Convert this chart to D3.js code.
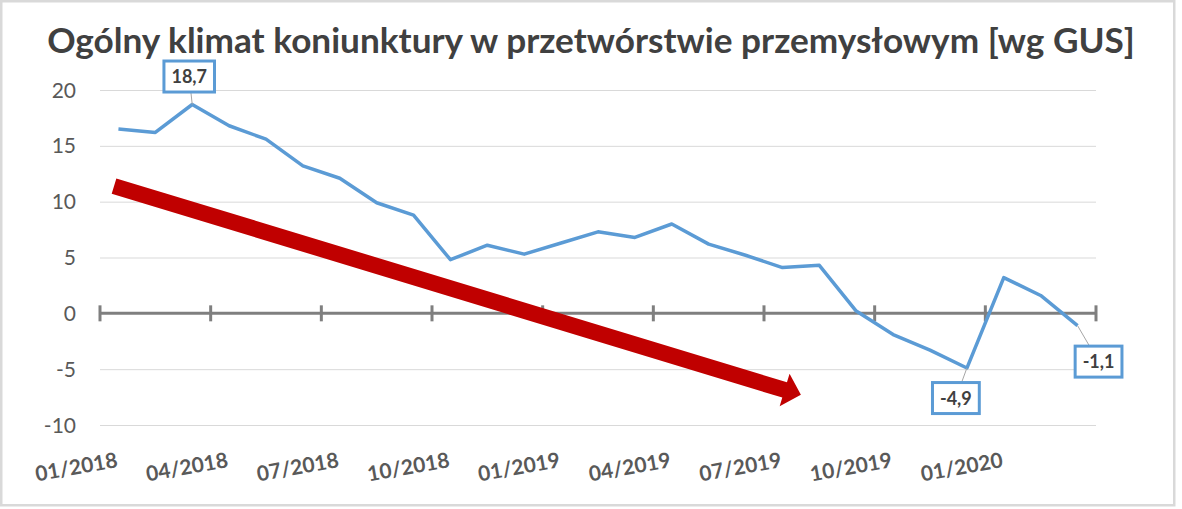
<!DOCTYPE html>
<html>
<head>
<meta charset="utf-8">
<script src="https://cdn.jsdelivr.net/npm/d3@7"></script>
<style>
  body { margin: 0; background: #fff; }
  text { font-family: Lato, 'Open Sans', sans-serif; }
</style>
</head>
<body>
<svg></svg>
<script>
const width = 1182
const height = 509

// data
const months = ['01/2018','02/2018','03/2018','04/2018','05/2018','06/2018','07/2018','08/2018','09/2018',
  '10/2018','11/2018','12/2018','01/2019','02/2019','03/2019','04/2019','05/2019','06/2019',
  '07/2019','08/2019','09/2019','10/2019','11/2019','12/2019','01/2020','02/2020','03/2020']
const values = [16.5, 16.2, 18.7, 16.8, 15.6, 13.2, 12.1, 9.9, 8.8,
  4.8, 6.1, 5.3, 6.3, 7.3, 6.8, 8.0, 6.2, 5.2,
  4.1, 4.3, 0.2, -1.9, -3.3, -4.9, 3.2, 1.6, -1.1]
const tickMonths = ['01/2018','04/2018','07/2018','10/2018','01/2019','04/2019','07/2019','10/2019','01/2020']
const yTicks = [20, 15, 10, 5, 0, -5, -10]
const labelledMonths = ['03/2018', '12/2019', '03/2020']
// trend arrow, in (category position, value)
const trendFrom = [0.38, 11.4]
const trendTo = [19.0, -7.3]

const titleText = 'Ogólny klimat koniunktury w przetwórstwie przemysłowym [wg GUS]'

const plot = {left: 100, right: 1096, top: 90, bottom: 425}
const lineColor = '#5B9BD5'
const textColor = '#595959'

const svg = d3.select('svg').attr('width', width).attr('height', height)

// chart border
svg.append('rect')
  .attr('x', 1.25).attr('y', 1.25)
  .attr('width', 1173).attr('height', 504)
  .attr('fill', '#fff').attr('stroke', '#D9D9D9').attr('stroke-width', 2.5)

const x = d3.scaleBand().domain(months).range([plot.left, plot.right])
const xPos = d3.scaleLinear().domain([0, months.length]).range([plot.left, plot.right])
const y = d3.scaleLinear().domain([-10, 20]).range([plot.bottom, plot.top])
const cx = m => x(m) + x.bandwidth() / 2

// title, fitted to its width in the picture
const title = svg.append('text')
  .attr('x', 591).attr('y', 53)
  .attr('text-anchor', 'middle')
  .attr('font-weight', 'bold')
  .attr('font-size', 32)
  .attr('fill', '#404040')
  .text(titleText)
const tw = title.node().getComputedTextLength()
title.attr('font-size', 32 * 1088 / tw)

// gridlines
svg.append('g').selectAll('line')
  .data(yTicks.filter(d => d !== 0))
  .enter().append('line')
  .attr('x1', plot.left).attr('x2', plot.right)
  .attr('y1', d => y(d) + 0.5).attr('y2', d => y(d) + 0.5)
  .attr('stroke', '#D9D9D9').attr('stroke-width', 1)

// y labels
svg.append('g').selectAll('text')
  .data(yTicks)
  .enter().append('text')
  .attr('x', 76).attr('y', d => y(d))
  .attr('dy', '0.36em')
  .attr('text-anchor', 'end')
  .attr('font-size', 21)
  .attr('fill', textColor)
  .text(d => d)

// zero axis with tick marks every 3 months
const axisG = svg.append('g')
axisG.append('line')
  .attr('x1', plot.left).attr('x2', plot.right)
  .attr('y1', y(0)).attr('y2', y(0))
  .attr('stroke', '#7F7F7F').attr('stroke-width', 3)
const tickIdx = d3.range(0, months.length + 1, 3)
axisG.selectAll('line.tick')
  .data(tickIdx)
  .enter().append('line')
  .attr('class', 'tick')
  .attr('x1', d => xPos(d)).attr('x2', d => xPos(d))
  .attr('y1', y(0) - 8).attr('y2', y(0) + 8)
  .attr('stroke', '#7F7F7F').attr('stroke-width', 3)

// x labels, slanted
svg.append('g').selectAll('text')
  .data(tickMonths)
  .enter().append('text')
  .attr('transform', d => `translate(${cx(d)}, 467) rotate(-10)`)
  .attr('text-anchor', 'end')
  .attr('font-size', 21)
  .attr('font-weight', 'bold')
  .attr('fill', textColor)
  .text(d => d)

// data line
const line = d3.line()
  .x((d, i) => cx(months[i]))
  .y(d => y(d))
svg.append('path')
  .datum(values)
  .attr('d', line)
  .attr('fill', 'none')
  .attr('stroke', lineColor)
  .attr('stroke-width', 3.5)
  .attr('stroke-linejoin', 'round')

// trend arrow
const sx = xPos(trendFrom[0]), sy = y(trendFrom[1])
const tx = xPos(trendTo[0]), ty = y(trendTo[1])
const len = Math.hypot(tx - sx, ty - sy)
const ux = (tx - sx) / len, uy = (ty - sy) / len
const nx = -uy, ny = ux
const shaftW = 8, headW = 17, headL = 17
const bx = tx - ux * headL, by = ty - uy * headL
const arrowPts = [
  [sx + nx * shaftW, sy + ny * shaftW],
  [bx + nx * shaftW, by + ny * shaftW],
  [bx + nx * headW, by + ny * headW],
  [tx, ty],
  [bx - nx * headW, by - ny * headW],
  [bx - nx * shaftW, by - ny * shaftW],
  [sx - nx * shaftW, sy - ny * shaftW]
]
svg.append('polygon')
  .attr('points', arrowPts.map(p => p.join(',')).join(' '))
  .attr('fill', '#C00000')

// data labels (box offset from the point, px)
const labelOffsets = [[-3, -28], [-11, 30], [21, 36]]
const fmt = v => String(v).replace('.', ',')
labelledMonths.forEach((m, k) => {
  const i = months.indexOf(m)
  const px = cx(m), py = y(values[i])
  const bxc = px + labelOffsets[k][0], byc = py + labelOffsets[k][1]
  const g = svg.append('g')
  g.append('line')
    .attr('x1', px).attr('y1', py)
    .attr('x2', bxc).attr('y2', byc)
    .attr('stroke', '#A6A6A6').attr('stroke-width', 1)
  const t = g.append('text')
    .attr('x', bxc).attr('y', byc)
    .attr('dy', '0.36em')
    .attr('text-anchor', 'middle')
    .attr('font-size', 18)
    .attr('font-weight', 'bold')
    .attr('fill', '#404040')
    .text(fmt(values[i]))
  const w = t.node().getComputedTextLength() + 15
  g.insert('rect', 'text')
    .attr('x', bxc - w / 2).attr('y', byc - 15.5)
    .attr('width', w).attr('height', 31)
    .attr('fill', '#fff')
    .attr('stroke', lineColor).attr('stroke-width', 3)
})
</script>
</body>
</html>
